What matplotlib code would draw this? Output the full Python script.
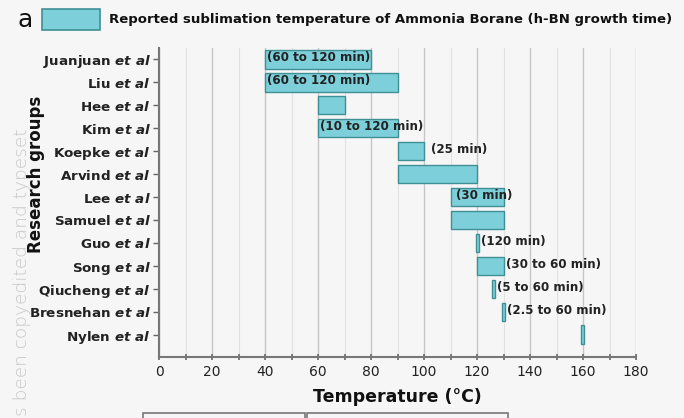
import matplotlib.pyplot as plt
import numpy as np
from matplotlib import rcParams
from matplotlib.ticker import MultipleLocator
from matplotlib.patches import Rectangle

rcParams['font.family'] = ['DejaVu Sans']
rcParams['mathtext.fontset'] = 'custom'
rcParams['mathtext.it'] = 'DejaVu Sans:italic:bold'
rcParams['mathtext.rm'] = 'DejaVu Sans:bold'

# research groups (top to bottom)
groups = ['Juanjuan', 'Liu', 'Hee', 'Kim', 'Koepke', 'Arvind', 'Lee',
          'Samuel', 'Guo', 'Song', 'Qiucheng', 'Bresnehan', 'Nylen']
# sublimation temperature ranges (°C)
t_start = [40, 40, 60, 60, 90, 90, 110, 110, 119.5, 120, 125.5, 129.3, 159.2]
t_end = [80, 90, 70, 90, 100, 120, 130, 130, 120.6, 130, 126.6, 130.5, 160.4]
# growth time labels, and whether they sit inside the bar
times = ['(60 to 120 min)', '(60 to 120 min)', '', '(10 to 120 min)', '(25 min)', '',
         '(30 min)', '', '(120 min)', '(30 to 60 min)', '(5 to 60 min)',
         '(2.5 to 60 min)', '']
inside = [True, True, False, True, False, False, True, False, False, False,
          False, False, False]

bar_col = '#7dd0da'
edge_col = '#3f8f95'

fig = plt.figure(figsize=(6.84, 4.18), dpi=100, facecolor='#f6f6f6')
ax = fig.add_axes([0.2325, 0.146, 0.6975, 0.739], facecolor='#f6f6f6')

y = np.arange(len(groups))
widths = np.array(t_end) - np.array(t_start)
ax.barh(y, widths, left=t_start, height=0.82, color=bar_col, edgecolor=edge_col,
        linewidth=1.0, zorder=3)

for i in range(len(groups)):
    if times[i] == '':
        continue
    if inside[i]:
        xt = t_start[i] + 0.6
        if groups[i] == 'Lee':
            xt = t_start[i] + 2
    else:
        xt = t_end[i] + 0.8
        if groups[i] == 'Koepke':
            xt = t_end[i] + 2.5
    ax.text(xt, y[i] - 0.05, times[i], va='center', ha='left', fontsize=8.6,
            fontweight='bold', color='#222222', zorder=4)

ax.set_xlim(0, 180)
ax.set_ylim(12.96, -0.48)
ax.xaxis.set_major_locator(MultipleLocator(20))
ax.xaxis.set_minor_locator(MultipleLocator(10))
ax.grid(axis='x', which='major', color='#c6c6c6', linewidth=1.0, zorder=0)
ax.grid(axis='x', which='minor', color='#e2e2e2', linewidth=0.8, zorder=0)

ax.set_yticks(y)
ax.set_yticklabels([g + r' $\mathit{et\ al}$' for g in groups], fontsize=9.7,
                   fontweight='bold', color='#222222')
ax.tick_params(axis='x', which='both', direction='inout', length=5, width=1.2,
               color='#666666', labelsize=10, labelcolor='#222222')
ax.tick_params(axis='x', which='minor', length=4)
ax.tick_params(axis='y', direction='out', length=4, width=1, color='#666666', pad=2)

for s in ['top', 'right']:
    ax.spines[s].set_visible(False)
for s in ['left', 'bottom']:
    ax.spines[s].set_color('#777777')
    ax.spines[s].set_linewidth(1.5)

ax.set_xlabel('Temperature (°C)', fontsize=12.5, fontweight='bold', color='#111111', labelpad=6)
ax.set_ylabel('Research groups', fontsize=12, fontweight='bold', color='#111111')
ax.yaxis.set_label_coords(-0.238, 0.59)

# panel letter and legend-like header
fig.text(0.026, 0.952, 'a', fontsize=18, color='#111111', va='center', ha='left')
fig.patches.append(Rectangle((0.062, 0.928), 0.084, 0.05, transform=fig.transFigure,
                             facecolor=bar_col, edgecolor=edge_col, linewidth=1.2))
fig.text(0.16, 0.953, 'Reported sublimation temperature of Ammonia Borane (h-BN growth time)',
         fontsize=9.5, fontweight='bold', color='#111111', va='center', ha='left')

# faint watermark from the source page (drawn behind the axis label)
fig.text(0.032, 1 - 128 / 418, 's been copyedited and typeset', rotation=90, fontsize=13.3,
         color='#c8c8c8', fontweight='light', va='top', ha='center', zorder=0)

# edge of the next panel at the bottom of the page
for x0, w in [(143, 162), (307, 201)]:
    fig.patches.append(Rectangle((x0 / 684, -0.05), w / 684, 0.05 + 5 / 418,
                                 transform=fig.transFigure, facecolor='none',
                                 edgecolor='#777777', linewidth=1.2))

fig.savefig('out.png', dpi=100, facecolor=fig.get_facecolor())
